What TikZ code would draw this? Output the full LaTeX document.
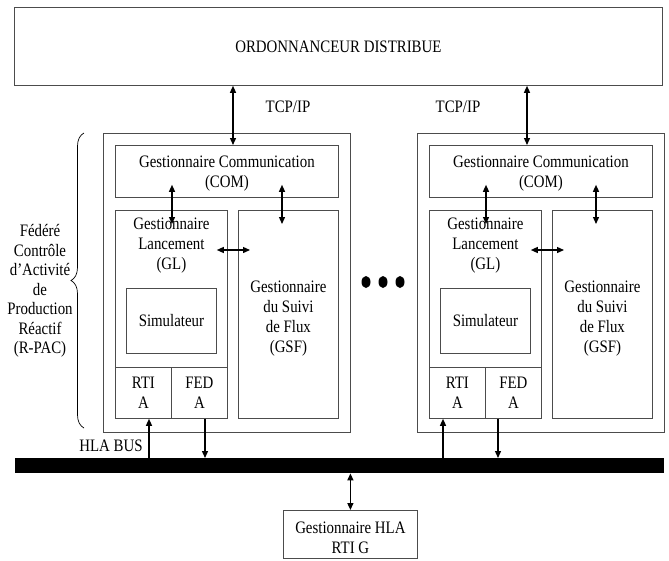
\documentclass[tikz,border=0pt]{standalone}
\usepackage{fontspec}
\setmainfont{Liberation Serif}[FakeStretch=0.85]
\usetikzlibrary{arrows.meta,decorations.pathreplacing,calc}
\tikzset{
  box/.style={draw=black!70, line width=0.8pt, inner sep=0pt, rectangle, anchor=north west},
  lbl/.style={font=\fontsize{17.5}{20}\selectfont, align=center, inner sep=0pt},
  dbl/.style={{Triangle[length=7pt,width=6pt]}-{Triangle[length=7pt,width=6pt]}, line width=1.3pt},
  one/.style={-{Triangle[length=7pt,width=6pt]}, line width=1.3pt},
}
\begin{document}
\begin{tikzpicture}[x=1pt,y=-1pt]
\useasboundingbox (0,0) rectangle (669,560);
% top scheduler
\node[box, minimum width=648pt, minimum height=78pt] (ord) at (14,7) {};
\node[lbl] (ordt) at (ord.center) {ORDONNANCEUR DISTRIBUE};
% bus
\node[fill=black, inner sep=0pt, minimum width=649pt, minimum height=15pt, anchor=north west] (bus) at (15,458) {};
\node[lbl] (hlabus) at (111,446) {HLA BUS};
% HLA manager
\node[box, minimum width=134pt, minimum height=48pt] (hla) at (283,510) {};
\node[lbl] (hlat) at ([yshift=-3pt]hla.center) {Gestionnaire HLA\\RTI G};
\draw[dbl] (bus.south -| hla.north) -- (hla.north);
% TCP/IP labels
\node[lbl] (tcpL) at (288,107) {TCP/IP};
\node[lbl] (tcpR) at (458,107) {TCP/IP};
% panels
\foreach \p/\s/\ta/\ra/\fa in {L/0/233/149/205, R/314/213/129/184}{
  \begin{scope}[xshift=\s pt]
    \node[box, minimum width=247pt, minimum height=299pt] (out\p) at (103,133) {};
    \node[box, minimum width=223pt, minimum height=52pt] (com\p) at (115,145) {};
    \node[lbl] (comt\p) at ([yshift=-2pt]com\p.center) {Gestionnaire Communication\\(COM)};
    \node[box, minimum width=112pt, minimum height=208pt] (gl\p) at (115,210) {};
    \node[lbl, anchor=north] (glt\p) at ([yshift=-8pt]gl\p.north) {Gestionnaire\\Lancement\\(GL)};
    \node[box, minimum width=100pt, minimum height=208pt] (gsf\p) at (238,210) {};
    \node[lbl] (gsft\p) at ([yshift=-4pt]gsf\p.center) {Gestionnaire\\du Suivi\\de Flux\\(GSF)};
    \node[box, minimum width=90pt, minimum height=65pt] (sim\p) at (126,288) {};
    \node[lbl] (simt\p) at (sim\p.center) {Simulateur};
    \node[box, minimum width=56pt, minimum height=51pt] (rti\p) at (115,367) {};
    \node[lbl] (rtit\p) at (rti\p.center) {RTI\\A};
    \node[box, minimum width=56pt, minimum height=51pt] (fed\p) at (171,367) {};
    \node[lbl] (fedt\p) at (fed\p.center) {FED\\A};
    % arrows
    \draw[dbl] (ord.south -| \ta,0) -- (com\p.north -| \ta,0);
    \draw[dbl] ($(com\p.south -| 172,0)+(0,-13)$) -- ($(gl\p.north -| 172,0)+(0,14)$);
    \draw[dbl] ($(com\p.south -| 282,0)+(0,-13)$) -- ($(gsf\p.north -| 282,0)+(0,14)$);
    \draw[dbl] ($(gl\p.east |- 0,250)+(-11,0)$) -- ($(gsf\p.west |- 0,250)+(12,0)$);
    \draw[one] (bus.north -| \ra,0) -- (rti\p.south -| \ra,0);
    \draw[one] (fed\p.south -| \fa,0) -- (bus.north -| \fa,0);
  \end{scope}
}
% brace and federate label
\draw[decorate, decoration={brace, amplitude=13pt}, line width=0.7pt] (84,428) -- (84,133);
\node[lbl, font=\fontsize{17.5}{19.5}\selectfont] (fedlbl) at (40,291) {Fédéré\\Contrôle\\d’Activité\\de\\Production\\Réactif\\(R-PAC)};
% dots
\fill (366,282) ellipse [x radius=4.5, y radius=6];
\fill (383,282) ellipse [x radius=4.5, y radius=6];
\fill (400,282) ellipse [x radius=4.5, y radius=6];
\end{tikzpicture}
\end{document}
